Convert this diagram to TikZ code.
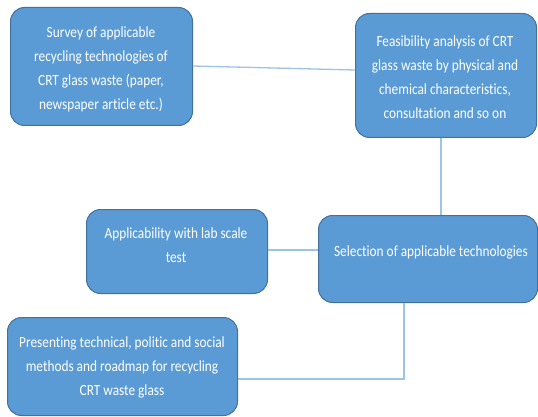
\documentclass[tikz,border=0pt]{standalone}
\usepackage{fontspec}
\setmainfont{Carlito}[FakeStretch=0.86, Ligatures=NoCommon]
\begin{document}
\begin{tikzpicture}[x=1pt,y=-1pt,
  box/.style={draw=boxline, line width=1pt, fill=boxfill, rounded corners=14pt,
    inner sep=0pt, anchor=north west},
  txt/.style={text=white, align=center, font=\fontsize{15.5}{24}\selectfont, inner sep=0pt},
  link/.style={draw=linkblue, line width=1.3pt}]
\definecolor{boxfill}{HTML}{5B9BD5}
\definecolor{boxline}{HTML}{41719C}
\definecolor{linkblue}{HTML}{9DC3E6}
\useasboundingbox (0,0) rectangle (538,417);

% boxes (top-left corner, size in px)
\node[box, minimum width=182pt, minimum height=118pt] (survey) at (10,7) {};
\node[box, minimum width=181pt, minimum height=124pt] (feas) at (355,13) {};
\node[box, minimum width=219pt, minimum height=87pt] (sel) at (318,215) {};
\node[box, minimum width=181pt, minimum height=84pt] (lab) at (86,209) {};
\node[box, minimum width=230pt, minimum height=98pt] (pres) at (7,317) {};

% connectors
\coordinate (c1) at (survey.east |- 0,66);
\coordinate (c2) at (feas.west |- 0,70);
\draw[link] (c1) -- (c2);
\draw[link] (feas.south -| 441,0) -- (sel.north -| 441,0);
\draw[link] (lab.east |- 0,250) -- (sel.west |- 0,250);
\coordinate (bend) at (404,379);
\draw[link] (sel.south -| bend) -- (bend) -- (pres.east |- bend);

% box texts
\node[txt] (surveyt) at (101,69) {Survey of applicable\\recycling technologies of\\CRT glass waste (paper,\\newspaper article etc.)};
\node[txt] (feast) at (445,77) {Feasibility analysis of CRT\\glass waste by physical and\\chemical characteristics,\\consultation and so on};
\node[txt] (selt) at (431,252) {Selection of applicable technologies};
\node[txt] (labt) at (176,245) {Applicability with lab scale\\test};
\node[txt] (prest) at (122,367) {Presenting technical, politic and social\\methods and roadmap for recycling\\CRT waste glass};
\end{tikzpicture}
\end{document}
